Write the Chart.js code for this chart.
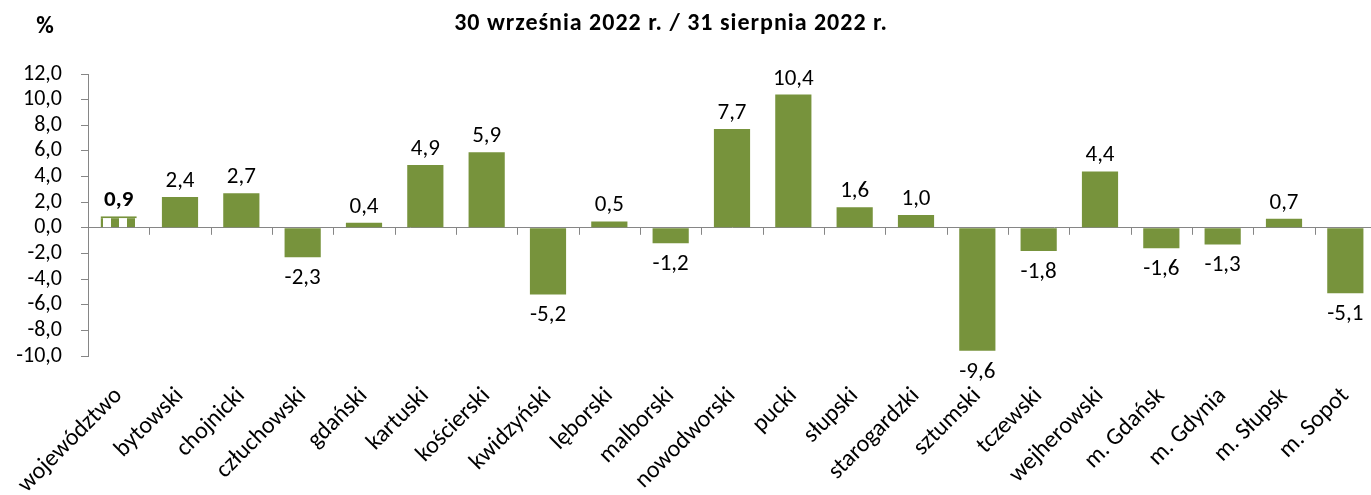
<!DOCTYPE html>
<html>
<head>
<meta charset="utf-8">
<script src="https://cdn.jsdelivr.net/npm/chart.js@4/dist/chart.umd.min.js"></script>
<style>
  html, body { margin: 0; padding: 0; background: #fff; overflow: hidden; }
  #wrap { position: relative; width: 1376px; height: 495px; }
</style>
</head>
<body>
<div id="wrap"><canvas id="myChart"></canvas></div>
<script>
var labels = ['województwo', 'bytowski', 'chojnicki', 'człuchowski', 'gdański', 'kartuski',
    'kościerski', 'kwidzyński', 'lęborski', 'malborski', 'nowodworski', 'pucki', 'słupski',
    'starogardzki', 'sztumski', 'tczewski', 'wejherowski', 'm. Gdańsk', 'm. Gdynia',
    'm. Słupsk', 'm. Sopot'];
var values = [0.9, 2.4, 2.7, -2.3, 0.4, 4.9, 5.9, -5.2, 0.5, -1.2, 7.7, 10.4, 1.6, 1.0,
    -9.6, -1.8, 4.4, -1.6, -1.3, 0.7, -5.1];
var titleText = '30 września 2022 r. / 31 sierpnia 2022 r.';
var unitText = '%';

var green = '#77933C';
var grey = '#868686';
var fontName = 'Carlito, Lato, sans-serif';

// striped fill for the voivodeship bar
function stripes() {
    var c = document.createElement('canvas');
    c.width = 16; c.height = 16;
    var g = c.getContext('2d');
    g.fillStyle = '#fff';
    g.fillRect(0, 0, 16, 16);
    g.fillStyle = green;
    g.fillRect(0, 0, 7, 16);
    g.fillRect(15, 0, 1, 16);
    return g.createPattern(c, 'repeat');
}

var extras = {
    id: 'extras',
    afterDatasetsDraw: function(chart) {
        var ctx = chart.ctx;
        var x = chart.scales.x, y = chart.scales.y;
        var y0 = y.getPixelForValue(0);
        ctx.save();
        // category tick marks on the zero line
        ctx.strokeStyle = grey;
        ctx.lineWidth = 1;
        for (var i = 1; i < labels.length; i++) {
            var bx = Math.round((x.getPixelForValue(i - 1) + x.getPixelForValue(i)) / 2) + 0.5;
            ctx.beginPath();
            ctx.moveTo(bx, y0);
            ctx.lineTo(bx, y0 + 7);
            ctx.stroke();
        }
        // value labels
        ctx.fillStyle = '#000';
        ctx.textAlign = 'center';
        ctx.textBaseline = 'alphabetic';
        var meta = chart.getDatasetMeta(0);
        meta.data.forEach(function(bar, i) {
            var v = values[i];
            var txt = v.toFixed(1).replace('.', ',');
            ctx.font = (i === 0 ? 'bold ' : '') + '23px ' + fontName;
            if (v >= 0) {
                ctx.fillText(txt, bar.x, bar.y - 10);
            } else {
                ctx.fillText(txt, bar.x, bar.y + 27);
            }
        });
        // title and unit
        ctx.font = 'bold 24px ' + fontName;
        ctx.textAlign = 'center';
        ctx.fillText(unitText, 45, 33);
        ctx.letterSpacing = '1px';
        ctx.fillText(titleText, 671, 30);
        ctx.restore();
    }
};

var ctx = document.getElementById('myChart').getContext('2d');
var myChart = new Chart(ctx, {
    type: 'bar',
    data: {
        labels: labels,
        datasets: [{
            data: values,
            backgroundColor: values.map(function(v, i) { return i === 0 ? stripes() : green; }),
            borderColor: green,
            borderWidth: values.map(function(v, i) { return i === 0 ? { top: 2, left: 0, right: 0, bottom: 0 } : 0; }),
            borderSkipped: false,
            categoryPercentage: 1,
            barPercentage: 0.59
        }]
    },
    options: {
        responsive: true,
        maintainAspectRatio: false,
        animation: false,
        layout: { padding: { top: 74, left: 0, right: 0, bottom: 0 } },
        plugins: { legend: { display: false }, tooltip: { enabled: false } },
        scales: {
            x: {
                grid: { display: false },
                border: { display: false },
                ticks: {
                    color: '#000',
                    font: { family: fontName, size: 24 },
                    minRotation: 45,
                    maxRotation: 45,
                    padding: 18,
                    autoSkip: false
                },
                afterFit: function(scale) {
                    scale.height = 139;
                    scale.paddingLeft = 0;
                    scale.paddingRight = 0;
                }
            },
            y: {
                min: -10,
                max: 12,
                ticks: {
                    stepSize: 2,
                    autoSkip: false,
                    color: '#000',
                    font: { family: fontName, size: 22 },
                    padding: 19,
                    callback: function(v) { return v.toFixed(1).replace('.', ','); }
                },
                grid: {
                    drawOnChartArea: true,
                    color: function(c) { return c.tick && c.tick.value === 0 ? grey : 'rgba(0,0,0,0)'; },
                    tickColor: grey,
                    tickLength: 7
                },
                border: { display: true, color: grey },
                afterFit: function(scale) { scale.width = 88; }
            }
        }
    },
    plugins: [extras]
});
</script>
</body>
</html>
